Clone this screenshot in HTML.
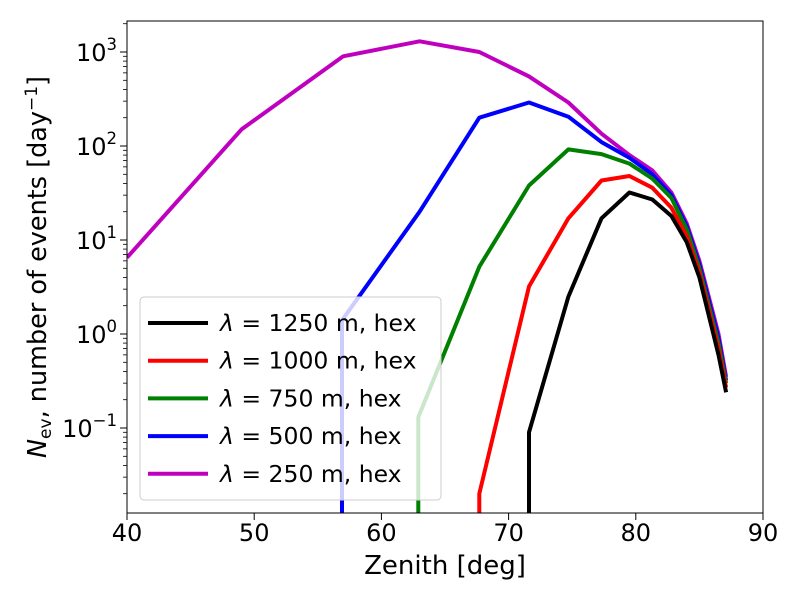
<!DOCTYPE html>
<html><head><meta charset="utf-8"><style>
body{margin:0;background:#fff}
svg text{font-family:"DejaVu Sans","Liberation Sans",sans-serif;fill:#000}
</style></head><body>
<svg id="chart" width="800" height="600">
<defs><clipPath id="clip"><rect x="127" y="21" width="636" height="492"/></clipPath></defs>
<g id="series" clip-path="url(#clip)"></g>
<rect x="127" y="21" width="636" height="492" fill="none" stroke="#000" stroke-width="1"/>
<g id="axes"></g>
<text x="445" y="574" font-size="26" text-anchor="middle">Zenith [deg]</text>
<text transform="translate(46,267) rotate(-90)" font-size="25.5" text-anchor="middle"><tspan font-style="italic">N</tspan><tspan font-size="17" dy="5">ev</tspan><tspan dy="-5">, number of events [day</tspan><tspan font-size="17" dy="-9">−1</tspan><tspan dy="9">]</tspan></text>
<g id="legend"></g>
</svg>
<script>
const seriesNames=["λ = 1250 m, hex","λ = 1000 m, hex","λ = 750 m, hex","λ = 500 m, hex","λ = 250 m, hex"];
const colors=["#000000","#ff0000","#008000","#0000ff","#bf00bf"];
const xTicks=[40,50,60,70,80,90];
const yTickExps=[-1,0,1,2,3];
const blackX=[71.6,71.6,74.7,77.3,79.5,81.3,82.8,84.0,85.0,86.5,87.1];
const blackY=[0.001,0.09,2.5,17,32,27,18,9.5,4,0.6,0.24];
const redX=[67.7,67.7,71.6,74.7,77.3,79.5,81.3,82.8,84.0,85.0,86.5,87.1];
const redY=[0.001,0.02,3.2,17,43,48,36,22,11,4.5,0.7,0.27];
const greenX=[62.9,62.9,67.7,71.6,74.7,77.3,79.5,81.3,82.8,84.0,85.0,86.5,87.1];
const greenY=[0.001,0.13,5.2,38,92,82,65,45,28,13,5,0.8,0.3];
const blueX=[56.9,56.9,63.0,67.7,71.6,74.7,77.3,79.5,81.3,82.8,84.0,85.0,86.5,87.1];
const blueY=[0.001,1.4,20,200,290,205,110,75,50,30,14,5.5,0.9,0.32];
const magX=[40,49,57,63,67.7,71.6,74.7,77.3,79.5,81.3,82.8,84.0,85.0,86.5,87.1];
const magY=[6.5,150,900,1300,1000,550,290,135,80,55,32,15,6,1.0,0.35];
const NS="http://www.w3.org/2000/svg";
const sx=v=>127+(v-40)*636/50;
const sy=v=>334-Math.log10(v)*94;
function mk(t,a,p){const e=document.createElementNS(NS,t);for(const k in a)e.setAttribute(k,a[k]);p.appendChild(e);return e;}
const ax=document.getElementById('axes');
xTicks.forEach(t=>{
 const l=mk('line',{x1:sx(t),x2:sx(t),y1:513,y2:520,stroke:'#000'},ax);
 
 
 const tx=mk('text',{x:sx(t),y:541,'font-size':24,'text-anchor':'middle'},ax);tx.textContent=t;
 
 
});
yTickExps.forEach(e=>{
 const y=sy(Math.pow(10,e));
 const l=mk('line',{x1:120,x2:127,y1:y,y2:y,stroke:'#000'},ax);
 
 
 const tx=mk('text',{x:117,y:y+9,'font-size':24,'text-anchor':'end'},ax);
 
 
 tx.innerHTML='10<tspan font-size="16.5" dy="-11">'+(e<0?'−1':e)+'</tspan>';
});
for(let e=-2;e<=3;e++)for(let m=2;m<=9;m++){
 const y=sy(m*Math.pow(10,e));
 if(y<21||y>513)continue;
 const l=mk('line',{x1:123,x2:127,y1:y,y2:y,stroke:'#000','stroke-width':0.8},ax);
 
 
}
const sg=document.getElementById('series');
const allX=[blackX,redX,greenX,blueX,magX],allY=[blackY,redY,greenY,blueY,magY];
for(let i=4;i>=0;i--){
 const pts=allX[i].map((x,j)=>sx(x).toFixed(1)+','+sy(allY[i][j]).toFixed(1)).join(' ');
 const p=mk('polyline',{points:pts,fill:'none',stroke:colors[i],'stroke-width':4,'stroke-linejoin':'round'},sg);
 
 
}
const lg=document.getElementById('legend');
const box=mk('rect',{x:140,y:297,width:301,height:203,rx:4,fill:'#fff','fill-opacity':0.8,stroke:'#ccc'},lg);


seriesNames.forEach((n,i)=>{
 const y=323+i*37.7;
 const l=mk('line',{x1:148,x2:208,y1:y,y2:y,stroke:colors[i],'stroke-width':4},lg);
 
 
 const t=mk('text',{x:220,y:y+8,'font-size':23.5},lg);
 
 
 t.innerHTML='<tspan font-style="italic">λ</tspan>'+n.slice(1);
});
</script>
</body></html>
